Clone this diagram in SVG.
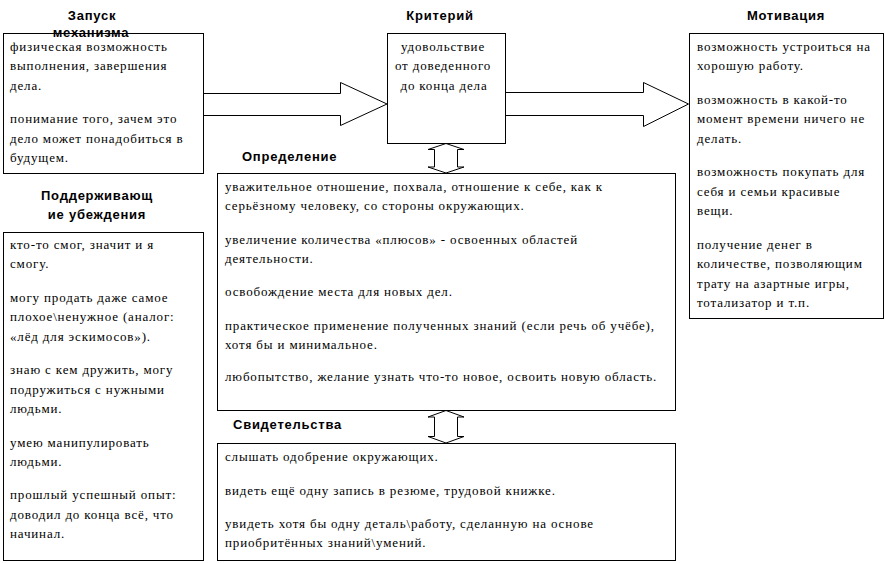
<svg xmlns="http://www.w3.org/2000/svg" width="885" height="563" viewBox="0 0 885 563">
<style>
.box{fill:#fff;stroke:#000;stroke-width:1}
.arr{fill:#fff;stroke:#000;stroke-width:1}
.t{font-family:"Liberation Serif","Times New Roman",serif;font-size:13px;letter-spacing:0.85px;fill:#000}
.h{font-family:"Liberation Sans",Arial,sans-serif;font-size:13px;font-weight:bold;letter-spacing:0.75px;fill:#000}
.c{text-anchor:middle}
</style>
<rect x="0" y="0" width="885" height="563" fill="#fff"/>
<g id="connectors">
<polygon class="arr" points="203.5,93.5 340.5,93.5 340.5,82.5 387,104 340.5,125.5 340.5,115.5 203.5,115.5"/>
<polygon class="arr" points="505.5,92.5 643.5,92.5 643.5,82.5 688.5,104 643.5,126.5 643.5,115.5 505.5,115.5"/>
<polygon class="arr" points="446,143.5 464,149.5 457.5,149.5 457.5,167 464,167 446,173 428,167 434.5,167 434.5,149.5 428,149.5"/>
<polygon class="arr" points="446,410.5 464,417 457.5,417 457.5,436.5 464,436.5 446,443 428,436.5 434.5,436.5 434.5,417 428,417"/>
</g>
<g id="zapusk">
<rect class="box" x="3.5" y="33.5" width="200" height="140"/>
<text class="h c" x="92" y="20">Запуск</text>
<text class="h c" x="91" y="37">механизма</text>
<text class="t" x="10" y="50.5">физическая возможность</text>
<text class="t" x="10" y="70">выполнения, завершения</text>
<text class="t" x="10" y="89.5">дела.</text>
<text class="t" x="10" y="123">понимание того, зачем это</text>
<text class="t" x="10" y="142.5">дело может понадобиться в</text>
<text class="t" x="10" y="162">будущем.</text>
</g>
<g id="kriteriy">
<rect class="box" x="387.5" y="33.5" width="118" height="110"/>
<text class="h c" x="440" y="20">Критерий</text>
<text class="t c" x="443" y="50.5">удовольствие</text>
<text class="t c" x="443" y="70">от доведенного</text>
<text class="t c" x="444" y="89.5">до конца дела</text>
</g>
<g id="motivaciya">
<rect class="box" x="689.5" y="33.5" width="194" height="285"/>
<text class="h c" x="786" y="20">Мотивация</text>
<text class="t" x="697" y="50.5">возможность устроиться на</text>
<text class="t" x="697" y="70">хорошую работу.</text>
<text class="t" x="697" y="103.5">возможность в какой-то</text>
<text class="t" x="697" y="123">момент времени ничего не</text>
<text class="t" x="697" y="142.5">делать.</text>
<text class="t" x="697" y="176">возможность покупать для</text>
<text class="t" x="697" y="195.5">себя и семьи красивые</text>
<text class="t" x="697" y="215">вещи.</text>
<text class="t" x="697" y="248.5">получение денег в</text>
<text class="t" x="697" y="268">количестве, позволяющим</text>
<text class="t" x="697" y="287.5">трату на азартные игры,</text>
<text class="t" x="697" y="307">тотализатор и т.п.</text>
</g>
<g id="podderzh">
<rect class="box" x="3.5" y="232.5" width="200" height="328"/>
<text class="h c" x="97" y="200">Поддерживающ</text>
<text class="h c" x="97" y="219">ие убеждения</text>
<text class="t" x="10" y="249">кто-то смог, значит и я</text>
<text class="t" x="10" y="268.4">смогу.</text>
<text class="t" x="10" y="301.9">могу продать даже самое</text>
<text class="t" x="10" y="321.3">плохое\ненужное (аналог:</text>
<text class="t" x="10" y="340.7">«лёд для эскимосов»).</text>
<text class="t" x="10" y="374.2">знаю с кем дружить,  могу</text>
<text class="t" x="10" y="393.6">подружиться с нужными</text>
<text class="t" x="10" y="413">людьми.</text>
<text class="t" x="10" y="446.5">умею манипулировать</text>
<text class="t" x="10" y="465.9">людьми.</text>
<text class="t" x="10" y="499.4">прошлый успешный опыт:</text>
<text class="t" x="10" y="518.8">доводил до конца всё, что</text>
<text class="t" x="10" y="538.2">начинал.</text>
</g>
<g id="opredelenie">
<rect class="box" x="217.5" y="173.5" width="458" height="237"/>
<text class="h" x="242" y="160.5">Определение</text>
<text class="t" x="225" y="190.5">уважительное отношение, похвала, отношение к себе, как к</text>
<text class="t" x="225" y="210">серьёзному человеку, со стороны окружающих.</text>
<text class="t" x="225" y="243.5">увеличение количества «плюсов» - освоенных областей</text>
<text class="t" x="225" y="263">деятельности.</text>
<text class="t" x="225" y="296">освобождение места для новых дел.</text>
<text class="t" x="225" y="329.5">практическое применение полученных знаний (если речь об учёбе),</text>
<text class="t" x="225" y="348.5">хотя бы и минимальное.</text>
<text class="t" x="225" y="381">любопытство, желание узнать что-то новое, освоить новую область.</text>
</g>
<g id="svidetelstva">
<rect class="box" x="217.5" y="443.5" width="458" height="117"/>
<text class="h" x="233" y="429">Свидетельства</text>
<text class="t" x="225" y="461">слышать одобрение окружающих.</text>
<text class="t" x="225" y="494.5">видеть ещё одну запись в резюме, трудовой книжке.</text>
<text class="t" x="225" y="527.5">увидеть хотя бы одну деталь\работу, сделанную на основе</text>
<text class="t" x="225" y="547">приобритённых знаний\умений.</text>
</g>
</svg>
